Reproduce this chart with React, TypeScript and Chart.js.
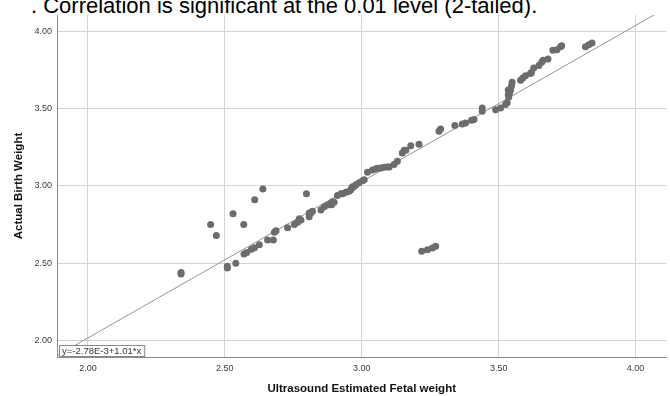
import React, { useEffect, useRef } from "react";
import { Chart, registerables } from "chart.js";

Chart.register(...registerables);

const HEADER_TEXT = ". Correlation is significant at the 0.01 level (2-tailed).";
const X_TITLE = "Ultrasound Estimated Fetal weight";
const Y_TITLE = "Actual Birth Weight";
const FIT_LABEL = "y=-2.78E-3+1.01*x";
const FIT_INTERCEPT = -0.00278;
const FIT_SLOPE = 1.01;

const X_MIN = 1.887;
const X_MAX = 4.113;
const Y_MIN = 1.894;
const Y_MAX = 4.105;
const X_TICKS = [2.0, 2.5, 3.0, 3.5, 4.0];
const Y_TICKS = [2.0, 2.5, 3.0, 3.5, 4.0];

const ultrasoundWeight = [
  2.34, 2.34, 2.448, 2.469, 2.509, 2.509, 2.54, 2.53, 2.569, 2.609, 2.639,
  2.57, 2.58, 2.597, 2.608, 2.626, 2.656, 2.677, 2.681, 2.687, 2.729,
  2.754, 2.766, 2.772, 2.778, 2.798, 2.808, 2.808, 2.814, 2.82, 2.851,
  2.863, 2.875, 2.887, 2.893, 2.899, 2.89, 2.911, 2.924, 2.93, 2.942,
  2.954, 2.96, 2.964, 2.966, 2.972, 2.979, 2.99, 3.003, 3.009,
  3.021, 3.039, 3.051, 3.057, 3.07, 3.082, 3.094, 3.1, 3.118, 3.13,
  3.148, 3.155, 3.161, 3.179, 3.209, 3.219, 3.24, 3.258, 3.27,
  3.282, 3.288, 3.34, 3.367, 3.379, 3.401, 3.41, 3.44, 3.44,
  3.489, 3.507, 3.525, 3.531, 3.535, 3.535, 3.537, 3.54, 3.544, 3.547, 3.549,
  3.58, 3.588, 3.598, 3.616, 3.62, 3.628, 3.647, 3.657, 3.662, 3.68,
  3.698, 3.713, 3.726, 3.73, 3.817, 3.829, 3.841,
];

const actualWeight = [
  2.44, 2.43, 2.75, 2.68, 2.48, 2.47, 2.5, 2.82, 2.75, 2.91, 2.98,
  2.56, 2.57, 2.59, 2.6, 2.62, 2.65, 2.65, 2.7, 2.71, 2.73,
  2.75, 2.765, 2.787, 2.78, 2.95, 2.8, 2.825, 2.825, 2.836, 2.845,
  2.866, 2.876, 2.886, 2.897, 2.894, 2.879, 2.938, 2.95, 2.95, 2.959,
  2.965, 2.976, 2.987, 2.994, 2.997, 3.008, 3.02, 3.034, 3.04,
  3.088, 3.103, 3.11, 3.114, 3.116, 3.12, 3.123, 3.123, 3.138, 3.159,
  3.213, 3.23, 3.23, 3.26, 3.27, 2.577, 2.588, 2.599, 2.61,
  3.353, 3.368, 3.39, 3.401, 3.407, 3.424, 3.429, 3.504, 3.482,
  3.493, 3.504, 3.526, 3.537, 3.59, 3.62, 3.575, 3.6, 3.622, 3.648, 3.67,
  3.683, 3.698, 3.713, 3.726, 3.734, 3.763, 3.778, 3.799, 3.812, 3.821,
  3.877, 3.881, 3.899, 3.907, 3.899, 3.913, 3.924,
];

const FONT = "Arial, 'Liberation Sans', Helvetica, sans-serif";

const fitBoxPlugin = {
  id: "fitBox",
  afterDatasetsDraw(chart: any) {
    const { ctx, chartArea } = chart;
    ctx.save();
    ctx.font = `9.5px ${FONT}`;
    const w = ctx.measureText(FIT_LABEL).width + 6;
    const h = 12;
    const x = chartArea.left + 2;
    const y = chartArea.bottom - h;
    ctx.fillStyle = "#ffffff";
    ctx.fillRect(x, y, w, h);
    ctx.strokeStyle = "#8a8a8a";
    ctx.lineWidth = 1;
    ctx.strokeRect(x + 0.5, y + 0.5, w, h - 1);
    ctx.fillStyle = "#333333";
    ctx.textBaseline = "middle";
    ctx.fillText(FIT_LABEL, x + 3, y + h / 2 + 0.5);
    ctx.restore();
  },
};

export default function App() {
  const canvasRef = useRef<HTMLCanvasElement | null>(null);

  useEffect(() => {
    if (!canvasRef.current) return;
    const points = ultrasoundWeight.map((x, i) => ({ x, y: actualWeight[i] }));
    const fitLine = [X_MIN, X_MAX].map((x) => ({ x, y: FIT_INTERCEPT + FIT_SLOPE * x }));

    const chart = new Chart(canvasRef.current, {
      type: "scatter",
      data: {
        datasets: [
          {
            type: "line",
            data: fitLine,
            borderColor: "#959595",
            borderWidth: 1,
            pointRadius: 0,
            fill: false,
            order: 2,
          } as any,
          {
            data: points,
            backgroundColor: "#6c6c6c",
            borderWidth: 0,
            pointRadius: 3.5,
            pointHoverRadius: 3.5,
            order: 1,
          },
        ],
      },
      options: {
        responsive: false,
        animation: false,
        events: [],
        layout: { padding: { top: 15, right: 2, left: 0, bottom: 0 } },
        plugins: {
          legend: { display: false },
          tooltip: { enabled: false },
        },
        scales: {
          x: {
            type: "linear",
            min: X_MIN,
            max: X_MAX,
            afterBuildTicks: (scale: any) => {
              scale.ticks = X_TICKS.map((v) => ({ value: v }));
            },
            afterFit: (scale: any) => {
              scale.height = 39;
            },
            ticks: {
              callback: (v: any) => Number(v).toFixed(2),
              font: { family: FONT, size: 9 },
              color: "#3a3a3a",
              padding: 6,
              maxRotation: 0,
              autoSkip: false,
            },
            grid: { color: "#d4d4d4", lineWidth: 1, drawTicks: false, tickLength: 0 },
            border: { display: true, color: "#8a8a8a", width: 1 },
            title: {
              display: true,
              text: X_TITLE,
              font: { family: FONT, size: 11.5, weight: "bold" },
              color: "#111111",
              padding: { top: 0, bottom: 0 },
            },
          },
          y: {
            type: "linear",
            min: Y_MIN,
            max: Y_MAX,
            afterBuildTicks: (scale: any) => {
              scale.ticks = Y_TICKS.map((v) => ({ value: v }));
            },
            afterFit: (scale: any) => {
              scale.width = 57;
            },
            ticks: {
              callback: (v: any) => Number(v).toFixed(2),
              font: { family: FONT, size: 9 },
              color: "#3a3a3a",
              padding: 5,
              autoSkip: false,
            },
            grid: { color: "#d4d4d4", lineWidth: 1, drawTicks: false, tickLength: 0 },
            border: { display: true, color: "#8a8a8a", width: 1 },
            title: {
              display: true,
              text: Y_TITLE,
              font: { family: FONT, size: 11.5, weight: "bold" },
              color: "#111111",
              padding: { top: 12, bottom: 0 },
            },
          },
        },
      },
      plugins: [fitBoxPlugin],
    } as any);

    return () => chart.destroy();
  }, []);

  return (
    <div style={{ position: "absolute", left: 0, top: 0, width: 670, height: 396, overflow: "hidden", background: "#ffffff" }}>
      <div
        style={{
          position: "absolute",
          left: 31,
          top: -5,
          fontFamily: FONT,
          fontSize: 22,
          lineHeight: "22px",
          whiteSpace: "nowrap",
          color: "#000000",
        }}
      >
        {HEADER_TEXT}
      </div>
      <canvas ref={canvasRef} width={670} height={396} style={{ position: "absolute", left: 0, top: 0, width: 670, height: 396 }} />
    </div>
  );
}
